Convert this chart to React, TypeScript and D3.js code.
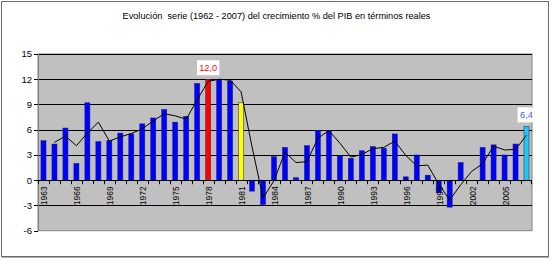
import React from "react";
import * as d3 from "d3";

const years: number[] = [
  1963, 1964, 1965, 1966, 1967, 1968, 1969, 1970, 1971, 1972, 1973, 1974, 1975, 1976, 1977,
  1978, 1979, 1980, 1981, 1982, 1983, 1984, 1985, 1986, 1987, 1988, 1989, 1990, 1991, 1992,
  1993, 1994, 1995, 1996, 1997, 1998, 1999, 2000, 2001, 2002, 2003, 2004, 2005, 2006, 2007,
];
const growth: number[] = [
  4.7, 4.3, 6.2, 2.0, 9.2, 4.6, 4.7, 5.6, 5.5, 6.7, 7.4, 8.4, 6.9, 7.6, 11.5,
  12.0, 12.0, 11.8, 9.2, -1.3, -2.9, 2.8, 3.9, 0.3, 4.1, 5.9, 5.9, 2.9, 2.6, 3.5,
  4.0, 3.8, 5.5, 0.4, 3.0, 0.6, -1.5, -3.2, 2.1, 0, 3.9, 4.2, 3.0, 4.3, 6.4,
];
const yTicks: number[] = [15, 12, 9, 6, 3, 0, -3, -6];
const highlight: Record<number, string> = { 1978: "#FF0000", 1981: "#FFFF00", 2007: "#1FC8EE" };
const labelled: Record<number, string> = { 1978: "#FF0000", 2007: "#3366FF" };
const title = "Evolución  serie (1962 - 2007) del crecimiento % del PIB en términos reales";

const W = 553;
const H = 260;
const FONT = "'Liberation Sans', Arial, sans-serif";

export default function App() {
  const left = 38;
  const right = 532;
  const top = 54;
  const bottom = 230.7;

  const x = d3.scaleBand<number>().domain(years).range([left, right]).padding(0);
  const y = d3.scaleLinear().domain([-6, 15]).range([bottom, top]);
  const bw = x.bandwidth();
  const barW = bw * 0.46;
  const cx = (yr: number) => (x(yr) as number) + bw / 2;

  // 2-period moving average trendline (as in the original chart)
  const ma: [number, number][] = years.slice(1).map((yr, i) => [yr, (growth[i] + growth[i + 1]) / 2]);
  const line = d3
    .line<[number, number]>()
    .x((d) => cx(d[0]))
    .y((d) => y(d[1]));

  const fmt = (v: number) => v.toFixed(1).replace(".", ",");

  return (
    <svg
      width={W}
      height={H}
      style={{ position: "absolute", left: 0, top: 0, display: "block", background: "#fff" }}
      fontFamily={FONT}
    >
      <rect x={0} y={0} width={W} height={H} fill="#fff" />
      {/* outer chart border */}
      <rect x={1.5} y={1.5} width={547} height={255} fill="#fff" stroke="#6a6a6a" strokeWidth={1} />
      <line x1={2} x2={549} y1={257.5} y2={257.5} stroke="#b0b0b0" strokeWidth={1} />

      {/* title */}
      <text x={276.5} y={19} textAnchor="middle" fontSize={9.2} fill="#000" style={{ whiteSpace: "pre" }}>
        {title}
      </text>

      {/* plot area */}
      <rect x={left} y={top} width={right - left} height={bottom - top} fill="#C0C0C0" stroke="#808080" strokeWidth={1} />

      {/* gridlines */}
      {yTicks
        .filter((t) => t !== 0 && t !== -6)
        .map((t) => (
          <line key={"g" + t} x1={left} x2={right} y1={Math.round(y(t)) + 0.5} y2={Math.round(y(t)) + 0.5} stroke="#000" strokeWidth={1} />
        ))}

      {/* y axis */}
      <line x1={left + 0.5} x2={left + 0.5} y1={top} y2={bottom} stroke="#808080" />
      {yTicks.map((t) => (
        <g key={"yt" + t}>
          <line x1={left - 4} x2={left} y1={Math.round(y(t)) + 0.5} y2={Math.round(y(t)) + 0.5} stroke="#000" />
          <text x={left - 6} y={y(t)} dy="0.35em" textAnchor="end" fontSize={9.5} fill="#000">
            {t}
          </text>
        </g>
      ))}

      {/* bars */}
      {years.map((yr, i) => {
        const v = growth[i];
        if (v === 0) return null;
        const y0 = y(0);
        const y1 = y(v);
        return (
          <rect
            key={"b" + yr}
            x={cx(yr) - barW / 2}
            y={Math.min(y0, y1)}
            width={barW}
            height={Math.abs(y1 - y0)}
            fill={highlight[yr] || "#0000FF"}
            stroke={highlight[yr] ? "#202060" : "#1a1a7a"}
            strokeWidth={0.5}
          />
        );
      })}

      {/* x axis at zero */}
      <line x1={left} x2={right} y1={Math.round(y(0)) + 0.5} y2={Math.round(y(0)) + 0.5} stroke="#000" />
      {years.map((yr) => (
        <line
          key={"xt" + yr}
          x1={Math.round(x(yr) as number) + 0.5}
          x2={Math.round(x(yr) as number) + 0.5}
          y1={y(0)}
          y2={y(0) + 4}
          stroke="#000"
        />
      ))}
      <line x1={right - 0.5} x2={right - 0.5} y1={y(0)} y2={y(0) + 4} stroke="#000" />
      {years
        .filter((_, i) => i % 3 === 0)
        .map((yr) => (
          <text
            key={"xl" + yr}
            transform={`translate(${cx(yr) + 1},${y(0) + 6}) rotate(-90)`}
            textAnchor="end"
            dominantBaseline="central"
            fontSize={8.5}
            fill="#000"
          >
            {yr}
          </text>
        ))}

      {/* moving average trendline */}
      <path d={line(ma) || ""} fill="none" stroke="#000" strokeWidth={1} />

      {/* data labels */}
      {years.map((yr, i) => {
        if (!labelled[yr]) return null;
        const v = growth[i];
        const txt = fmt(v);
        const bx = cx(yr);
        const by = y(v) - 8;
        const w = txt.length * 4.6 + 4;
        return (
          <g key={"lab" + yr}>
            <rect x={bx - w / 2} y={by - 11} width={w} height={15} fill="#fff" />
            <text x={bx} y={by} textAnchor="middle" fontSize={9.2} fill={labelled[yr]}>
              {txt}
            </text>
          </g>
        );
      })}
    </svg>
  );
}
